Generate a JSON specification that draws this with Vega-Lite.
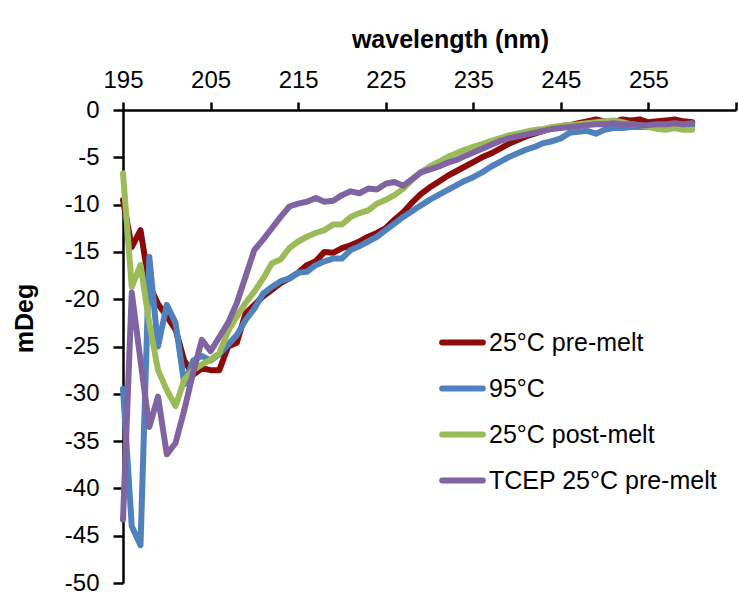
{
  "$schema": "https://vega.github.io/schema/vega-lite/v6.json",
  "width": 613,
  "height": 473,
  "autosize": {"type": "none"},
  "padding": {"left": 123, "top": 110, "right": 2, "bottom": 14},
  "config": {
    "font": "Liberation Sans",
    "view": {"stroke": null},
    "axis": {
      "domainColor": "black",
      "domainWidth": 2.5,
      "tickColor": "black",
      "tickWidth": 2.5,
      "labelColor": "black",
      "titleColor": "black",
      "grid": false
    }
  },
  "data": {
    "values": [
      {"s": "25°C pre-melt", "w": 195, "v": -9.5}, {"s": "25°C pre-melt", "w": 196, "v": -14.5}, {"s": "25°C pre-melt", "w": 197, "v": -12.7}, {"s": "25°C pre-melt", "w": 198, "v": -18.5}, {"s": "25°C pre-melt", "w": 199, "v": -20.5}, {"s": "25°C pre-melt", "w": 200, "v": -21.8}, {"s": "25°C pre-melt", "w": 201, "v": -23.2}, {"s": "25°C pre-melt", "w": 202, "v": -26.5}, {"s": "25°C pre-melt", "w": 203, "v": -28.0}, {"s": "25°C pre-melt", "w": 204, "v": -27.3}, {"s": "25°C pre-melt", "w": 205, "v": -27.5}, {"s": "25°C pre-melt", "w": 206, "v": -27.5}, {"s": "25°C pre-melt", "w": 207, "v": -25.0}, {"s": "25°C pre-melt", "w": 208, "v": -24.6}, {"s": "25°C pre-melt", "w": 209, "v": -21.5}, {"s": "25°C pre-melt", "w": 210, "v": -20.6}, {"s": "25°C pre-melt", "w": 211, "v": -19.7}, {"s": "25°C pre-melt", "w": 212, "v": -19.0}, {"s": "25°C pre-melt", "w": 213, "v": -18.3}, {"s": "25°C pre-melt", "w": 214, "v": -17.8}, {"s": "25°C pre-melt", "w": 215, "v": -17.2}, {"s": "25°C pre-melt", "w": 216, "v": -16.4}, {"s": "25°C pre-melt", "w": 217, "v": -16.0}, {"s": "25°C pre-melt", "w": 218, "v": -15.0}, {"s": "25°C pre-melt", "w": 219, "v": -15.1}, {"s": "25°C pre-melt", "w": 220, "v": -14.6}, {"s": "25°C pre-melt", "w": 221, "v": -14.3}, {"s": "25°C pre-melt", "w": 222, "v": -13.9}, {"s": "25°C pre-melt", "w": 223, "v": -13.4}, {"s": "25°C pre-melt", "w": 224, "v": -13.0}, {"s": "25°C pre-melt", "w": 225, "v": -12.5}, {"s": "25°C pre-melt", "w": 226, "v": -11.6}, {"s": "25°C pre-melt", "w": 227, "v": -10.8}, {"s": "25°C pre-melt", "w": 228, "v": -9.8}, {"s": "25°C pre-melt", "w": 229, "v": -8.9}, {"s": "25°C pre-melt", "w": 230, "v": -8.2}, {"s": "25°C pre-melt", "w": 231, "v": -7.6}, {"s": "25°C pre-melt", "w": 232, "v": -7.0}, {"s": "25°C pre-melt", "w": 233, "v": -6.5}, {"s": "25°C pre-melt", "w": 234, "v": -6.0}, {"s": "25°C pre-melt", "w": 235, "v": -5.5}, {"s": "25°C pre-melt", "w": 236, "v": -5.0}, {"s": "25°C pre-melt", "w": 237, "v": -4.6}, {"s": "25°C pre-melt", "w": 238, "v": -4.1}, {"s": "25°C pre-melt", "w": 239, "v": -3.6}, {"s": "25°C pre-melt", "w": 240, "v": -3.2}, {"s": "25°C pre-melt", "w": 241, "v": -2.8}, {"s": "25°C pre-melt", "w": 242, "v": -2.5}, {"s": "25°C pre-melt", "w": 243, "v": -2.2}, {"s": "25°C pre-melt", "w": 244, "v": -1.9}, {"s": "25°C pre-melt", "w": 245, "v": -1.7}, {"s": "25°C pre-melt", "w": 246, "v": -1.6}, {"s": "25°C pre-melt", "w": 247, "v": -1.4}, {"s": "25°C pre-melt", "w": 248, "v": -1.2}, {"s": "25°C pre-melt", "w": 249, "v": -1.0}, {"s": "25°C pre-melt", "w": 250, "v": -1.2}, {"s": "25°C pre-melt", "w": 251, "v": -1.3}, {"s": "25°C pre-melt", "w": 252, "v": -1.0}, {"s": "25°C pre-melt", "w": 253, "v": -1.1}, {"s": "25°C pre-melt", "w": 254, "v": -1.0}, {"s": "25°C pre-melt", "w": 255, "v": -1.3}, {"s": "25°C pre-melt", "w": 256, "v": -1.2}, {"s": "25°C pre-melt", "w": 257, "v": -1.1}, {"s": "25°C pre-melt", "w": 258, "v": -1.0}, {"s": "25°C pre-melt", "w": 259, "v": -1.2}, {"s": "25°C pre-melt", "w": 260, "v": -1.3},
      {"s": "95°C", "w": 195, "v": -29.5}, {"s": "95°C", "w": 196, "v": -44.0}, {"s": "95°C", "w": 197, "v": -46.0}, {"s": "95°C", "w": 198, "v": -15.5}, {"s": "95°C", "w": 199, "v": -25.0}, {"s": "95°C", "w": 200, "v": -20.6}, {"s": "95°C", "w": 201, "v": -22.5}, {"s": "95°C", "w": 202, "v": -29.0}, {"s": "95°C", "w": 203, "v": -26.5}, {"s": "95°C", "w": 204, "v": -26.0}, {"s": "95°C", "w": 205, "v": -26.5}, {"s": "95°C", "w": 206, "v": -25.8}, {"s": "95°C", "w": 207, "v": -24.8}, {"s": "95°C", "w": 208, "v": -23.8}, {"s": "95°C", "w": 209, "v": -22.2}, {"s": "95°C", "w": 210, "v": -21.0}, {"s": "95°C", "w": 211, "v": -19.4}, {"s": "95°C", "w": 212, "v": -18.7}, {"s": "95°C", "w": 213, "v": -18.1}, {"s": "95°C", "w": 214, "v": -17.8}, {"s": "95°C", "w": 215, "v": -17.2}, {"s": "95°C", "w": 216, "v": -17.1}, {"s": "95°C", "w": 217, "v": -16.4}, {"s": "95°C", "w": 218, "v": -16.0}, {"s": "95°C", "w": 219, "v": -15.7}, {"s": "95°C", "w": 220, "v": -15.7}, {"s": "95°C", "w": 221, "v": -14.8}, {"s": "95°C", "w": 222, "v": -14.4}, {"s": "95°C", "w": 223, "v": -13.9}, {"s": "95°C", "w": 224, "v": -13.4}, {"s": "95°C", "w": 225, "v": -12.7}, {"s": "95°C", "w": 226, "v": -12.0}, {"s": "95°C", "w": 227, "v": -11.3}, {"s": "95°C", "w": 228, "v": -10.7}, {"s": "95°C", "w": 229, "v": -10.1}, {"s": "95°C", "w": 230, "v": -9.5}, {"s": "95°C", "w": 231, "v": -9.0}, {"s": "95°C", "w": 232, "v": -8.5}, {"s": "95°C", "w": 233, "v": -8.0}, {"s": "95°C", "w": 234, "v": -7.5}, {"s": "95°C", "w": 235, "v": -7.1}, {"s": "95°C", "w": 236, "v": -6.6}, {"s": "95°C", "w": 237, "v": -6.0}, {"s": "95°C", "w": 238, "v": -5.5}, {"s": "95°C", "w": 239, "v": -5.0}, {"s": "95°C", "w": 240, "v": -4.6}, {"s": "95°C", "w": 241, "v": -4.2}, {"s": "95°C", "w": 242, "v": -3.9}, {"s": "95°C", "w": 243, "v": -3.5}, {"s": "95°C", "w": 244, "v": -3.3}, {"s": "95°C", "w": 245, "v": -3.0}, {"s": "95°C", "w": 246, "v": -2.4}, {"s": "95°C", "w": 247, "v": -2.3}, {"s": "95°C", "w": 248, "v": -2.2}, {"s": "95°C", "w": 249, "v": -2.5}, {"s": "95°C", "w": 250, "v": -2.1}, {"s": "95°C", "w": 251, "v": -1.9}, {"s": "95°C", "w": 252, "v": -1.9}, {"s": "95°C", "w": 253, "v": -1.8}, {"s": "95°C", "w": 254, "v": -1.8}, {"s": "95°C", "w": 255, "v": -1.8}, {"s": "95°C", "w": 256, "v": -1.7}, {"s": "95°C", "w": 257, "v": -1.7}, {"s": "95°C", "w": 258, "v": -1.6}, {"s": "95°C", "w": 259, "v": -1.6}, {"s": "95°C", "w": 260, "v": -1.6},
      {"s": "25°C post-melt", "w": 195, "v": -6.7}, {"s": "25°C post-melt", "w": 196, "v": -18.7}, {"s": "25°C post-melt", "w": 197, "v": -16.4}, {"s": "25°C post-melt", "w": 198, "v": -22.5}, {"s": "25°C post-melt", "w": 199, "v": -27.5}, {"s": "25°C post-melt", "w": 200, "v": -29.6}, {"s": "25°C post-melt", "w": 201, "v": -31.3}, {"s": "25°C post-melt", "w": 202, "v": -28.5}, {"s": "25°C post-melt", "w": 203, "v": -27.5}, {"s": "25°C post-melt", "w": 204, "v": -26.9}, {"s": "25°C post-melt", "w": 205, "v": -26.4}, {"s": "25°C post-melt", "w": 206, "v": -25.7}, {"s": "25°C post-melt", "w": 207, "v": -23.4}, {"s": "25°C post-melt", "w": 208, "v": -21.8}, {"s": "25°C post-melt", "w": 209, "v": -20.4}, {"s": "25°C post-melt", "w": 210, "v": -19.2}, {"s": "25°C post-melt", "w": 211, "v": -17.8}, {"s": "25°C post-melt", "w": 212, "v": -16.2}, {"s": "25°C post-melt", "w": 213, "v": -15.8}, {"s": "25°C post-melt", "w": 214, "v": -14.6}, {"s": "25°C post-melt", "w": 215, "v": -13.9}, {"s": "25°C post-melt", "w": 216, "v": -13.4}, {"s": "25°C post-melt", "w": 217, "v": -13.0}, {"s": "25°C post-melt", "w": 218, "v": -12.7}, {"s": "25°C post-melt", "w": 219, "v": -12.1}, {"s": "25°C post-melt", "w": 220, "v": -12.1}, {"s": "25°C post-melt", "w": 221, "v": -11.3}, {"s": "25°C post-melt", "w": 222, "v": -10.9}, {"s": "25°C post-melt", "w": 223, "v": -10.6}, {"s": "25°C post-melt", "w": 224, "v": -9.9}, {"s": "25°C post-melt", "w": 225, "v": -9.5}, {"s": "25°C post-melt", "w": 226, "v": -9.0}, {"s": "25°C post-melt", "w": 227, "v": -8.3}, {"s": "25°C post-melt", "w": 228, "v": -7.4}, {"s": "25°C post-melt", "w": 229, "v": -6.6}, {"s": "25°C post-melt", "w": 230, "v": -6.0}, {"s": "25°C post-melt", "w": 231, "v": -5.5}, {"s": "25°C post-melt", "w": 232, "v": -5.0}, {"s": "25°C post-melt", "w": 233, "v": -4.6}, {"s": "25°C post-melt", "w": 234, "v": -4.2}, {"s": "25°C post-melt", "w": 235, "v": -3.9}, {"s": "25°C post-melt", "w": 236, "v": -3.6}, {"s": "25°C post-melt", "w": 237, "v": -3.3}, {"s": "25°C post-melt", "w": 238, "v": -3.0}, {"s": "25°C post-melt", "w": 239, "v": -2.7}, {"s": "25°C post-melt", "w": 240, "v": -2.5}, {"s": "25°C post-melt", "w": 241, "v": -2.3}, {"s": "25°C post-melt", "w": 242, "v": -2.1}, {"s": "25°C post-melt", "w": 243, "v": -2.0}, {"s": "25°C post-melt", "w": 244, "v": -1.8}, {"s": "25°C post-melt", "w": 245, "v": -1.7}, {"s": "25°C post-melt", "w": 246, "v": -1.6}, {"s": "25°C post-melt", "w": 247, "v": -1.5}, {"s": "25°C post-melt", "w": 248, "v": -1.4}, {"s": "25°C post-melt", "w": 249, "v": -1.3}, {"s": "25°C post-melt", "w": 250, "v": -1.2}, {"s": "25°C post-melt", "w": 251, "v": -1.1}, {"s": "25°C post-melt", "w": 252, "v": -1.3}, {"s": "25°C post-melt", "w": 253, "v": -1.5}, {"s": "25°C post-melt", "w": 254, "v": -1.6}, {"s": "25°C post-melt", "w": 255, "v": -1.8}, {"s": "25°C post-melt", "w": 256, "v": -2.0}, {"s": "25°C post-melt", "w": 257, "v": -2.1}, {"s": "25°C post-melt", "w": 258, "v": -1.9}, {"s": "25°C post-melt", "w": 259, "v": -2.1}, {"s": "25°C post-melt", "w": 260, "v": -2.1},
      {"s": "TCEP 25°C pre-melt", "w": 195, "v": -43.3}, {"s": "TCEP 25°C pre-melt", "w": 196, "v": -19.3}, {"s": "TCEP 25°C pre-melt", "w": 197, "v": -26.5}, {"s": "TCEP 25°C pre-melt", "w": 198, "v": -33.5}, {"s": "TCEP 25°C pre-melt", "w": 199, "v": -30.3}, {"s": "TCEP 25°C pre-melt", "w": 200, "v": -36.4}, {"s": "TCEP 25°C pre-melt", "w": 201, "v": -35.2}, {"s": "TCEP 25°C pre-melt", "w": 202, "v": -31.7}, {"s": "TCEP 25°C pre-melt", "w": 203, "v": -27.8}, {"s": "TCEP 25°C pre-melt", "w": 204, "v": -24.3}, {"s": "TCEP 25°C pre-melt", "w": 205, "v": -25.5}, {"s": "TCEP 25°C pre-melt", "w": 206, "v": -24.0}, {"s": "TCEP 25°C pre-melt", "w": 207, "v": -22.5}, {"s": "TCEP 25°C pre-melt", "w": 208, "v": -20.4}, {"s": "TCEP 25°C pre-melt", "w": 209, "v": -17.6}, {"s": "TCEP 25°C pre-melt", "w": 210, "v": -14.8}, {"s": "TCEP 25°C pre-melt", "w": 211, "v": -13.7}, {"s": "TCEP 25°C pre-melt", "w": 212, "v": -12.5}, {"s": "TCEP 25°C pre-melt", "w": 213, "v": -11.3}, {"s": "TCEP 25°C pre-melt", "w": 214, "v": -10.2}, {"s": "TCEP 25°C pre-melt", "w": 215, "v": -9.9}, {"s": "TCEP 25°C pre-melt", "w": 216, "v": -9.7}, {"s": "TCEP 25°C pre-melt", "w": 217, "v": -9.3}, {"s": "TCEP 25°C pre-melt", "w": 218, "v": -9.7}, {"s": "TCEP 25°C pre-melt", "w": 219, "v": -9.6}, {"s": "TCEP 25°C pre-melt", "w": 220, "v": -9.0}, {"s": "TCEP 25°C pre-melt", "w": 221, "v": -8.6}, {"s": "TCEP 25°C pre-melt", "w": 222, "v": -8.8}, {"s": "TCEP 25°C pre-melt", "w": 223, "v": -8.3}, {"s": "TCEP 25°C pre-melt", "w": 224, "v": -8.4}, {"s": "TCEP 25°C pre-melt", "w": 225, "v": -7.8}, {"s": "TCEP 25°C pre-melt", "w": 226, "v": -7.6}, {"s": "TCEP 25°C pre-melt", "w": 227, "v": -8.0}, {"s": "TCEP 25°C pre-melt", "w": 228, "v": -7.3}, {"s": "TCEP 25°C pre-melt", "w": 229, "v": -6.6}, {"s": "TCEP 25°C pre-melt", "w": 230, "v": -6.3}, {"s": "TCEP 25°C pre-melt", "w": 231, "v": -6.0}, {"s": "TCEP 25°C pre-melt", "w": 232, "v": -5.6}, {"s": "TCEP 25°C pre-melt", "w": 233, "v": -5.3}, {"s": "TCEP 25°C pre-melt", "w": 234, "v": -4.9}, {"s": "TCEP 25°C pre-melt", "w": 235, "v": -4.5}, {"s": "TCEP 25°C pre-melt", "w": 236, "v": -4.1}, {"s": "TCEP 25°C pre-melt", "w": 237, "v": -3.7}, {"s": "TCEP 25°C pre-melt", "w": 238, "v": -3.3}, {"s": "TCEP 25°C pre-melt", "w": 239, "v": -3.0}, {"s": "TCEP 25°C pre-melt", "w": 240, "v": -2.8}, {"s": "TCEP 25°C pre-melt", "w": 241, "v": -2.6}, {"s": "TCEP 25°C pre-melt", "w": 242, "v": -2.4}, {"s": "TCEP 25°C pre-melt", "w": 243, "v": -2.2}, {"s": "TCEP 25°C pre-melt", "w": 244, "v": -2.0}, {"s": "TCEP 25°C pre-melt", "w": 245, "v": -1.9}, {"s": "TCEP 25°C pre-melt", "w": 246, "v": -1.8}, {"s": "TCEP 25°C pre-melt", "w": 247, "v": -1.7}, {"s": "TCEP 25°C pre-melt", "w": 248, "v": -1.6}, {"s": "TCEP 25°C pre-melt", "w": 249, "v": -1.5}, {"s": "TCEP 25°C pre-melt", "w": 250, "v": -1.5}, {"s": "TCEP 25°C pre-melt", "w": 251, "v": -1.4}, {"s": "TCEP 25°C pre-melt", "w": 252, "v": -1.5}, {"s": "TCEP 25°C pre-melt", "w": 253, "v": -1.5}, {"s": "TCEP 25°C pre-melt", "w": 254, "v": -1.6}, {"s": "TCEP 25°C pre-melt", "w": 255, "v": -1.6}, {"s": "TCEP 25°C pre-melt", "w": 256, "v": -1.5}, {"s": "TCEP 25°C pre-melt", "w": 257, "v": -1.5}, {"s": "TCEP 25°C pre-melt", "w": 258, "v": -1.4}, {"s": "TCEP 25°C pre-melt", "w": 259, "v": -1.5}, {"s": "TCEP 25°C pre-melt", "w": 260, "v": -1.4}
    ]
  },
  "mark": {"type": "line", "strokeWidth": 6, "strokeJoin": "round", "strokeCap": "round"},
  "encoding": {
    "x": {
      "field": "w",
      "type": "quantitative",
      "scale": {"domain": [195, 265], "nice": false, "zero": false},
      "axis": {
        "orient": "top",
        "title": "wavelength (nm)",
        "titleFontSize": 25,
        "titleFontWeight": "bold",
        "titleX": 327,
        "titleY": -63,
        "titleBaseline": "alphabetic",
        "titleAnchor": "middle",
        "titleAlign": "center",
        "values": [195, 205, 215, 225, 235, 245, 255, 265],
        "labelExpr": "datum.value == 265 ? '' : datum.value + ''",
        "labelFontSize": 24,
        "labelBaseline": "alphabetic",
        "labelPadding": 15,
        "tickSize": 8,
        "labelFlush": false,
        "labelOverlap": false
      }
    },
    "y": {
      "field": "v",
      "type": "quantitative",
      "scale": {"domain": [-50, 0], "nice": false},
      "axis": {
        "title": "mDeg",
        "titleFontSize": 25,
        "titleFontWeight": "bold",
        "titleAngle": -90,
        "titleX": -91,
        "titleY": 208,
        "titleBaseline": "alphabetic",
        "titleAlign": "center",
        "values": [0, -5, -10, -15, -20, -25, -30, -35, -40, -45, -50],
        "labelExpr": "datum.value + ''",
        "labelFontSize": 24,
        "labelPadding": 14,
        "tickSize": 10,
        "labelFlush": false,
        "labelOverlap": false
      }
    },
    "color": {
      "field": "s",
      "type": "nominal",
      "sort": ["25°C pre-melt", "95°C", "25°C post-melt", "TCEP 25°C pre-melt"],
      "scale": {
        "domain": ["25°C pre-melt", "95°C", "25°C post-melt", "TCEP 25°C pre-melt"],
        "range": ["#8b0a0a", "#4f81bd", "#9bbb59", "#8064a2"]
      },
      "legend": {
        "title": null,
        "orient": "none",
        "legendX": 316,
        "legendY": 209,
        "symbolType": "stroke",
        "symbolSize": 1656,
        "symbolStrokeWidth": 6,
        "labelFontSize": 25,
        "labelColor": "black",
        "labelOffset": 3,
        "rowPadding": 9,
        "labelLimit": 400,
        "encode": {"symbols": {"update": {"strokeCap": {"value": "round"}}}}
      }
    }
  }
}
